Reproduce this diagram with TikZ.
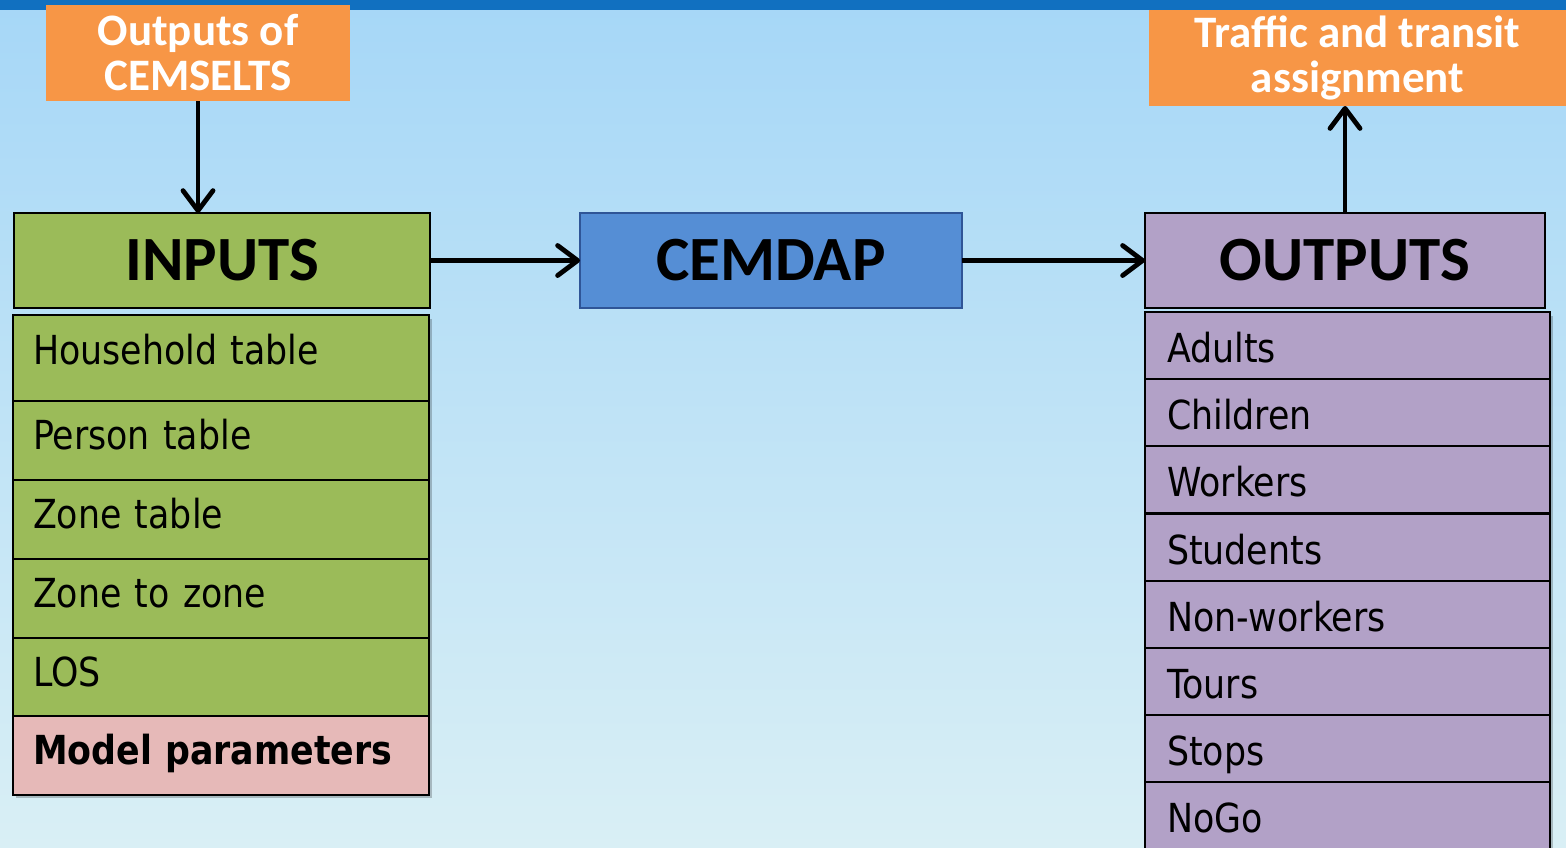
\documentclass[tikz,border=0pt]{standalone}
\usepackage{fontspec}
\setmainfont{DejaVu Sans}
\newfontfamily\headfont{Carlito}
\newfontfamily\itemfont[FakeStretch=0.87]{DejaVu Sans}
\usetikzlibrary{arrows.meta}
\definecolor{bgtop}{RGB}{166,215,247}
\definecolor{bgbot}{RGB}{217,239,245}
\definecolor{barblue}{RGB}{17,112,192}
\definecolor{orangefill}{RGB}{247,150,70}
\definecolor{greenfill}{RGB}{155,187,89}
\definecolor{pinkfill}{RGB}{230,185,184}
\definecolor{purplefill}{RGB}{178,161,199}
\definecolor{cemblue}{RGB}{85,142,213}
\definecolor{cemborder}{RGB}{47,85,151}
\begin{document}
\begin{tikzpicture}[x=0.5pt,y=-0.5pt,
  orangebox/.style={fill=orangefill, text=white, font=\headfont\bfseries\fontsize{22.5pt}{22.5pt}\selectfont, align=center, inner sep=0pt, outer sep=0pt, anchor=north west, minimum height=48pt},
  headbox/.style={draw=black, line width=1pt, font=\headfont\bfseries\fontsize{31.5pt}{31.5pt}\selectfont, inner sep=0pt, outer sep=0pt, anchor=north west, minimum height=47.5pt},
  itembox/.style={draw=black, line width=0.9pt, anchor=north west, inner ysep=0pt, outer sep=0pt, align=left, font=\itemfont\fontsize{20pt}{24pt}\selectfont},
  initem/.style={itembox, fill=greenfill, inner xsep=10pt, text width=188pt, minimum height=39.5pt, text height=15pt, text depth=6.5pt},
  outitem/.style={itembox, fill=purplefill, inner xsep=11pt, text width=180.5pt, minimum height=33.5pt, text height=16.5pt, text depth=0pt},
  arr/.style={line width=2.4pt, -{Straight Barb[length=10pt,width=15pt,line join=round,line cap=round]}},
  shadowbox/.style={fill=black, opacity=0.22}
]
\clip (0,0) rectangle (1566,847);
\shade[top color=bgtop, bottom color=bgbot] (0,0) rectangle (1566,847);
\fill[barblue] (0,0) rectangle (1566,10);

% orange boxes
\node[orangebox, minimum width=152pt] (cemselts) at (46,5) {Outputs of\\CEMSELTS};
\node[orangebox, minimum width=208.5pt] (assign) at (1149,10) {Traffic and transit\\assignment};

% heads
\node[headbox, fill=greenfill, minimum width=208pt] (inputs) at (14,213) {INPUTS};
\node[headbox, fill=cemblue, draw=cemborder, line width=0.8pt, minimum width=191pt] (cemdap) at (580,213) {CEMDAP};
\node[headbox, fill=purplefill, minimum width=200pt] (outputs) at (1145,213) {OUTPUTS};

% shadows
\fill[shadowbox] (16,319) rectangle (432,798);
\fill[shadowbox] (1148,316) rectangle (1553,860);

% input items
\node[initem, minimum height=43pt, text depth=9pt] (in1) at (13,315) {Household table};
\node[initem] (in2) at (13,401) {Person table};
\node[initem] (in3) at (13,480) {Zone table};
\node[initem] (in4) at (13,559) {Zone to zone};
\node[initem] (in5) at (13,638) {LOS};
\node[initem, fill=pinkfill, font=\itemfont\bfseries\fontsize{20pt}{24pt}\selectfont] (in6) at (13,716) {Model parameters};

% output items
\node[outitem] (o1) at (1145,312) {Adults};
\node[outitem] (o2) at (1145,379) {Children};
\node[outitem] (o3) at (1145,446) {Workers};
\node[outitem] (o4) at (1145,514) {Students};
\node[outitem] (o5) at (1145,581) {Non-workers};
\node[outitem] (o6) at (1145,648) {Tours};
\node[outitem] (o7) at (1145,715) {Stops};
\node[outitem] (o8) at (1145,782) {NoGo};

% connectors
\draw[arr] (cemselts.south) -- (cemselts.south |- inputs.north);
\draw[arr] (inputs.east) -- (cemdap.west);
\draw[arr] (cemdap.east) -- (outputs.west);
\draw[arr] (outputs.north) -- (outputs.north |- assign.south);
\end{tikzpicture}
\end{document}
